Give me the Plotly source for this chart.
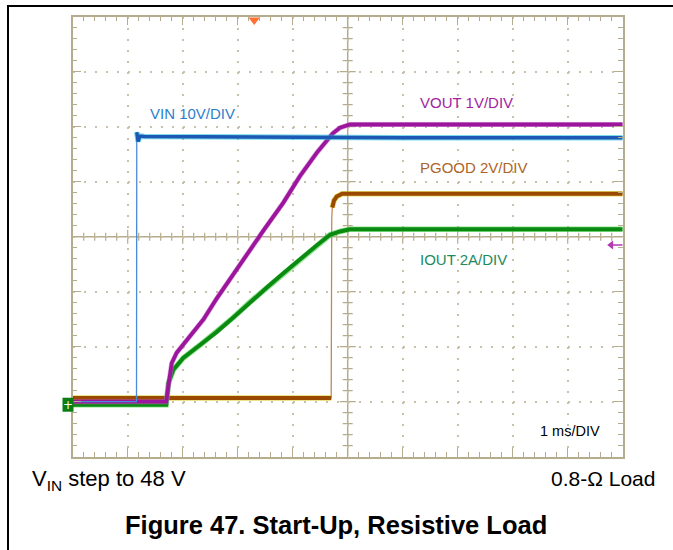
import numpy as np
import plotly.graph_objects as go

# ---------------- data (read from the scope capture) ----------------
# time in ms from left edge of the screen (1 ms/DIV, 10 divisions)
vin_t = [0.0, 1.16, 1.165, 1.19, 1.22, 1.30, 6.0, 10.0]
vin_v = [0.0, 0.0, 49.0, 47.3, 48.3, 48.2, 48.0, 48.0]          # V, 10 V/DIV

vout_t = [0.0, 1.70, 1.72, 1.76, 1.80, 1.89, 2.01, 2.19, 2.38, 2.62, 2.92,
          3.22, 3.46, 3.83, 4.13, 4.44, 4.73, 4.86, 5.04, 10.0]
vout_v = [0.0, 0.0, 0.15, 0.45, 0.70, 0.89, 1.04, 1.25, 1.50, 1.88, 2.32,
          2.77, 3.10, 3.62, 4.10, 4.53, 4.88, 4.98, 5.04, 5.04]      # V, 1 V/DIV

pgood_t = [0.0, 4.70, 4.71, 4.72, 4.75, 4.80, 4.90, 10.0]
pgood_v = [0.07, 0.07, 6.6, 7.0, 7.25, 7.4, 7.5, 7.5]             # V, 2 V/DIV

iout_t = [0.0, 1.70, 1.72, 1.74, 1.83, 2.01, 2.32, 2.62, 2.92, 3.22, 3.53,
          3.83, 4.13, 4.44, 4.68, 4.86, 5.04, 10.0]
iout_a = [0.0, 0.0, 0.35, 0.79, 1.27, 1.70, 2.18, 2.65, 3.17, 3.73, 4.26,
          4.78, 5.30, 5.80, 6.18, 6.30, 6.38, 6.38]                # A, 2 A/DIV

# channel scale (units per division) and ground offset (divisions)
scales = {"VIN": 10.0, "VOUT": 1.0, "PGOOD": 2.0, "IOUT": 2.0}
offsets = {"VIN": 1.0, "VOUT": 1.0, "PGOOD": 1.03, "IOUT": 0.945}

labels = ["VIN 10V/DIV", "VOUT 1V/DIV", "PGOOD 2V/DIV", "IOUT 2A/DIV"]

# ---------------- layout helpers ----------------
W, H = 673, 550
GL, GR, GT, GB = 72.7, 622.7, 16.7, 456.7
def px(x):
    return x / W
def py(y):
    return 1 - y / H

GRID = "#b5ac8d"
DOT = "#c9c2aa"

def div(ch, vals):
    return np.asarray(vals) / scales[ch] + offsets[ch]

fig = go.Figure()

def add_trace(t, y, color, width, halo=None, halo_w=None, mask=None):
    t = np.asarray(t); y = np.asarray(y)
    if mask is not None:
        t = t[mask]; y = y[mask]
    if halo:
        fig.add_trace(go.Scatter(x=t, y=y, mode="lines",
                                 line=dict(color=halo, width=halo_w),
                                 opacity=0.6, hoverinfo="skip", showlegend=False))
    fig.add_trace(go.Scatter(x=t, y=y, mode="lines",
                             line=dict(color=color, width=width),
                             hoverinfo="skip", showlegend=False))

# PGOOD (brown)
pt = np.asarray(pgood_t); pv = div("PGOOD", pgood_v)
add_trace(pt, pv, "#c08a58", 1.3)
add_trace(pt, pv, "#9a4a00", 4, "#d6c400", 5.5, mask=pt <= 4.70)
add_trace(pt, pv, "#9a4a00", 4, "#d6c400", 5.5, mask=pt >= 4.72)

# IOUT (green)
add_trace(iout_t, div("IOUT", iout_a), "#0b8a12", 4, "#3fd23f", 5.5)

# VOUT (purple)
add_trace(vout_t, div("VOUT", vout_v), "#9b169c", 3.8, "#c866c8", 5)

# VIN (blue)
vt = np.asarray(vin_t); vv = div("VIN", vin_v)
add_trace(vt, vv, "#4a8ad6", 1.3)
add_trace(vt, vv, "#1c58b4", 3.5, "#22c4dc", 5.5, mask=vt >= 1.165)

# trigger marker (top edge) and channel reference arrow (right edge)
fig.add_trace(go.Scatter(x=[3.3], y=[7.94], mode="markers",
                         marker=dict(symbol="triangle-down", size=10, color="#ff7033"),
                         cliponaxis=False, hoverinfo="skip", showlegend=False))
ref_y = (GB - 245) / 55.0
fig.add_trace(go.Scatter(x=[9.79, 10.0], y=[ref_y, ref_y], mode="lines",
                         line=dict(color="#b23ab2", width=1.6),
                         cliponaxis=False, hoverinfo="skip", showlegend=False))
fig.add_trace(go.Scatter(x=[9.79], y=[ref_y], mode="markers",
                         marker=dict(symbol="triangle-left", size=8, color="#b23ab2"),
                         cliponaxis=False, hoverinfo="skip", showlegend=False))

axis_common = dict(showline=True, mirror="ticks", linecolor=GRID, linewidth=1.5,
                   ticks="inside", ticklen=9, tickwidth=1.4, tickcolor=GRID,
                   showticklabels=False, showgrid=True, gridcolor=DOT,
                   griddash="2px,9px", gridwidth=1.6, zeroline=False, fixedrange=True)

fig.update_layout(
    width=W, height=H, margin=dict(l=0, r=0, t=0, b=0),
    paper_bgcolor="white", plot_bgcolor="white",
    xaxis=dict(domain=[px(GL), px(GR)], range=[0, 10], dtick=1,
               minor=dict(dtick=0.2, ticks="inside", ticklen=5, tickwidth=1.2,
                          tickcolor=GRID, showgrid=False), **axis_common),
    yaxis=dict(domain=[py(GB), py(GT)], range=[0, 8], dtick=1,
               minor=dict(dtick=0.2, ticks="inside", ticklen=5, tickwidth=1.2,
                          tickcolor=GRID, showgrid=False), **axis_common),
)

shapes = []
# centre cross
shapes.append(dict(type="line", xref="x", yref="y", x0=5, x1=5, y0=0, y1=8,
                   line=dict(color=GRID, width=1.5), layer="below"))
shapes.append(dict(type="line", xref="x", yref="y", x0=0, x1=10, y0=4, y1=4,
                   line=dict(color=GRID, width=1.5), layer="below"))
for k in range(1, 50):
    xv = k * 0.2
    half = 7 if k % 5 == 0 else 4
    shapes.append(dict(type="line", xref="x", yref="y", ysizemode="pixel", yanchor=4,
                       x0=xv, x1=xv, y0=-half, y1=half,
                       line=dict(color=GRID, width=1.2), layer="below"))
for k in range(1, 40):
    yv = k * 0.2
    half = 8 if k % 5 == 0 else 5
    shapes.append(dict(type="line", xref="x", yref="y", xsizemode="pixel", xanchor=5,
                       y0=yv, y1=yv, x0=-half, x1=half,
                       line=dict(color=GRID, width=1.2), layer="below"))
# IOUT ground-reference marker at the left edge
gy = GB - offsets["IOUT"] * 55.0
shapes.append(dict(type="rect", xref="paper", yref="paper",
                   x0=px(62.5), x1=px(73.5), y0=py(gy + 7), y1=py(gy - 7),
                   fillcolor="#0b7d12", line=dict(width=0), layer="above"))
# page frame
shapes.append(dict(type="line", xref="paper", yref="paper", x0=px(7), x1=1, y0=py(6), y1=py(6),
                   line=dict(color="black", width=2)))
shapes.append(dict(type="line", xref="paper", yref="paper", x0=px(8), x1=px(8), y0=py(6), y1=0,
                   line=dict(color="black", width=2)))
fig.update_layout(shapes=shapes)

F = "Liberation Sans, Arial, sans-serif"
ann = [
    dict(text=labels[0], x=px(148), y=py(113), xanchor="left", yanchor="middle",
         font=dict(family=F, size=15, color="#2f80cc")),
    dict(text=labels[1], x=px(418), y=py(103), xanchor="left", yanchor="middle",
         font=dict(family=F, size=15, color="#a21ea2")),
    dict(text=labels[2], x=px(418), y=py(167), xanchor="left", yanchor="middle",
         font=dict(family=F, size=15, color="#ad6428")),
    dict(text=labels[3], x=px(418), y=py(259), xanchor="left", yanchor="middle",
         font=dict(family=F, size=15, color="#1d8a5c")),
    dict(text="1 ms/DIV", x=px(538), y=py(431), xanchor="left", yanchor="middle",
         font=dict(family=F, size=14.5, color="black")),
    dict(text="V<sub>IN</sub> step to 48 V", x=px(30), y=py(480), xanchor="left", yanchor="middle",
         font=dict(family=F, size=22, color="black")),
    dict(text="0.8-Ω Load", x=px(657), y=py(479), xanchor="right", yanchor="middle",
         font=dict(family=F, size=21, color="black")),
    dict(text="<b>Figure 47. Start-Up, Resistive Load</b>", x=px(336), y=py(525),
         xanchor="center", yanchor="middle",
         font=dict(family=F, size=25.5, color="black")),
    dict(text="+", x=px(68), y=py(gy), xanchor="center", yanchor="middle",
         font=dict(family="DejaVu Sans", size=12, color="white")),
]
for a in ann:
    a.update(xref="paper", yref="paper", showarrow=False)
fig.update_layout(annotations=ann)

fig.write_html("out.html", config={"displayModeBar": False},
               post_script="document.body.style.margin='0px';document.body.style.overflow='hidden';")
